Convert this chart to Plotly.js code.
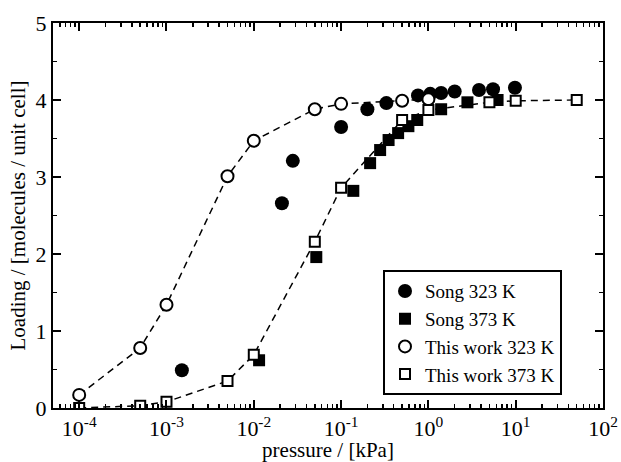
<!DOCTYPE html>
<html>
<head>
<meta charset="utf-8">
<script src="https://cdn.plot.ly/plotly-3.0.1.min.js"></script>
<style>html,body{margin:0;padding:0;background:#fff;}#chart{width:621px;height:462px;}</style>
</head>
<body>
<div id="chart"></div>
<script>
// This work 323 K (open circles)
const thisWork323P = [1e-4, 5e-4, 1e-3, 5e-3, 1e-2, 5e-2, 1e-1, 5e-1, 1];
const thisWork323L = [0.17, 0.78, 1.34, 3.01, 3.47, 3.88, 3.95, 3.99, 4.01];
// This work 373 K (open squares)
const thisWork373P = [1e-4, 5e-4, 1e-3, 5e-3, 1e-2, 5e-2, 1e-1, 5e-1, 1, 5, 10, 50];
const thisWork373L = [0.0, 0.03, 0.08, 0.35, 0.69, 2.16, 2.86, 3.74, 3.87, 3.97, 3.99, 4.0];
// Song 323 K (filled circles)
const song323P = [1.5e-3, 0.021, 0.028, 0.1, 0.2, 0.33, 0.76, 1.05, 1.4, 2.0, 3.8, 5.5, 9.8];
const song323L = [0.49, 2.66, 3.21, 3.65, 3.88, 3.96, 4.06, 4.08, 4.09, 4.11, 4.13, 4.14, 4.16];
// Song 373 K (filled squares)
const song373P = [0.0115, 0.052, 0.138, 0.215, 0.28, 0.35, 0.45, 0.59, 0.745, 1.4, 2.8, 6.2];
const song373L = [0.62, 1.96, 2.82, 3.18, 3.35, 3.48, 3.57, 3.66, 3.74, 3.88, 3.97, 4.0];

const legendNames = ['Song 323 K', 'Song 373 K', 'This work 323 K', 'This work 373 K'];
const xTickVals = [1e-4, 1e-3, 1e-2, 1e-1, 1, 10, 100];
const xTickText = ['10<sup>-4</sup>', '10<sup>-3</sup>', '10<sup>-2</sup>', '10<sup>-1</sup>',
                   '10<sup>0</sup>', '10<sup>1</sup>', '10<sup>2</sup>'];
const xTitle = 'pressure / [kPa]';
const yTitle = 'Loading / [molecules / unit cell]';

const dashLine = {color: '#000', width: 1.5, dash: '7px,5px'};
const traces = [
  {x: song323P, y: song323L, mode: 'markers', name: legendNames[0], type: 'scatter',
   marker: {symbol: 'circle', size: 14, color: '#000'}},
  {x: song373P, y: song373L, mode: 'markers', name: legendNames[1], type: 'scatter',
   marker: {symbol: 'square', size: 12, color: '#000'}},
  {x: thisWork323P, y: thisWork323L, mode: 'lines', showlegend: false, type: 'scatter',
   line: dashLine, hoverinfo: 'skip'},
  {x: thisWork373P, y: thisWork373L, mode: 'lines', showlegend: false, type: 'scatter',
   line: dashLine, hoverinfo: 'skip'},
  {x: thisWork323P, y: thisWork323L, mode: 'markers', name: legendNames[2], type: 'scatter',
   marker: {symbol: 'circle', size: 12, color: '#fff', line: {color: '#000', width: 2}}},
  {x: thisWork373P, y: thisWork373L, mode: 'markers', name: legendNames[3], type: 'scatter',
   marker: {symbol: 'square', size: 10, color: '#fff', line: {color: '#000', width: 2}}}
];

const fontFam = '"Liberation Serif", "Times New Roman", serif';
const layout = {
  width: 621, height: 462,
  margin: {l: 53, r: 18, t: 23, b: 54},
  paper_bgcolor: '#fff', plot_bgcolor: '#fff',
  font: {family: fontFam, color: '#000', size: 22},
  showlegend: true,
  legend: {
    x: 0.6, y: 0.358, xanchor: 'left', yanchor: 'top',
    bgcolor: '#fff', bordercolor: '#000', borderwidth: 2,
    font: {family: fontFam, size: 19, color: '#000'},
    tracegroupgap: 0, itemwidth: 30
  },
  xaxis: {
    type: 'log', range: [-4.3, 2],
    showgrid: false, zeroline: false,
    showline: true, linecolor: '#000', linewidth: 2, mirror: 'allticks',
    ticks: 'inside', ticklen: 8, tickwidth: 2, tickcolor: '#000',
    tickmode: 'array', tickvals: xTickVals, ticktext: xTickText,
    tickfont: {family: fontFam, size: 22},
    minor: {ticks: 'inside', ticklen: 4, tickwidth: 1.5, tickcolor: '#000', dtick: 'D1', showgrid: false},
    title: {text: xTitle, font: {family: fontFam, size: 21}, standoff: 5}
  },
  yaxis: {
    range: [0, 5],
    showgrid: false, zeroline: false,
    showline: true, linecolor: '#000', linewidth: 2, mirror: 'allticks',
    ticks: 'inside', ticklen: 8, tickwidth: 2, tickcolor: '#000',
    dtick: 1, tickfont: {family: fontFam, size: 22},
    minor: {ticks: 'inside', ticklen: 4, tickwidth: 1.5, tickcolor: '#000', dtick: 0.5, showgrid: false},
    title: {text: yTitle, font: {family: fontFam, size: 21}, standoff: 4}
  }
};

Plotly.newPlot('chart', traces, layout, {displayModeBar: false, staticPlot: true});
</script>
</body>
</html>
